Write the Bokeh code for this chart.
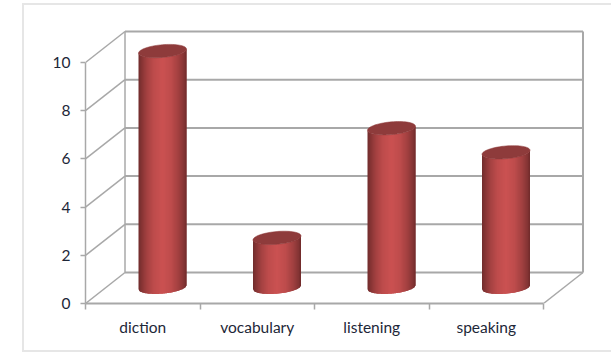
import numpy as np
from bokeh.embed import file_html
from bokeh.models import ColumnDataSource, FixedTicker, InlineStyleSheet, LinearAxis, Range1d
from bokeh.plotting import figure
from bokeh.resources import INLINE

# Chart values
categories = ["diction", "vocabulary", "listening", "speaking"]
scores = [9.8, 2.05, 6.6, 5.6]
value_ticks = [0, 2, 4, 6, 8, 10]

# Oblique projection of the box, in data units
DEPTH_X = 39.5 / 114.5
DEPTH_Y = 31 / 24.1
X_MAX = 4.0
Y_MAX = 10.0

# Cylinder shape, in data units
RADIUS_X = 0.2096
RADIUS_Y = 0.265
SHEAR = 0.083
FLOOR_Y = DEPTH_Y / 2 + 0.03

WALL = "#a8a8a8"
CAP = "#8e3b3b"
TEXT = "#1d2738"
SHADE_POS = [0.0, 0.06, 0.18, 0.32, 0.5, 0.68, 0.84, 0.95, 1.0]
SHADE_RGB = [
    (112, 44, 44), (132, 52, 52), (165, 66, 66), (190, 76, 76), (203, 82, 82),
    (190, 76, 76), (160, 64, 64), (132, 52, 52), (112, 44, 44),
]

# Light rule around the chart area, open on the right edge of the page
chart_rule = InlineStyleSheet(css="""
:host::after {
  content: "";
  position: absolute;
  left: 22px; top: 3px; right: 0; bottom: 0;
  border-style: solid;
  border-color: #e6e6e6;
  border-width: 2px 0 2px 2px;
  pointer-events: none;
}
""")

p = figure(
    width=611, height=352, output_backend="svg", toolbar_location=None,
    x_range=Range1d(0, 500 / 114.5), y_range=Range1d(0, 275 / 24.1),
    x_axis_type=None, y_axis_type=None,
    min_border_left=85, min_border_right=26, min_border_top=28, min_border_bottom=49,
    outline_line_color=None, background_fill_color="white", border_fill_color="white",
    stylesheets=[chart_rule],
)
p.grid.visible = False

# Box frame: back wall, side wall diagonals and floor
back_x0 = DEPTH_X
back_x1 = X_MAX + DEPTH_X
for v in value_ticks:
    p.segment(0, v, DEPTH_X, v + DEPTH_Y, line_color=WALL, line_width=1.5)
    p.segment(back_x0, v + DEPTH_Y, back_x1, v + DEPTH_Y, line_color=WALL, line_width=2)
p.segment(back_x0, DEPTH_Y, back_x0, Y_MAX + DEPTH_Y, line_color=WALL, line_width=1.5)
p.segment(back_x1, DEPTH_Y, back_x1, Y_MAX + DEPTH_Y, line_color=WALL, line_width=2)
p.segment(X_MAX, 0, back_x1, DEPTH_Y, line_color=WALL, line_width=1.5)

# Cylinders: overlapping vertical strips shaded across the width, then the top cap
edges = np.linspace(-1, 1, 49)
arc = np.sqrt(np.clip(1 - edges**2, 0, 1)) * RADIUS_Y
tilt = edges * SHEAR
strip_mid = (edges[:-1] + edges[1:] + 2) / 4
strip_colors = [
    "#%02x%02x%02x" % tuple(int(np.interp(m, SHADE_POS, [c[j] for c in SHADE_RGB])) for j in range(3))
    for m in strip_mid
]
for i, score in enumerate(scores):
    cx = i + 0.5 + DEPTH_X / 2
    top_y = FLOOR_Y + score
    strip_xs, strip_ys = [], []
    for k in range(len(strip_colors)):
        # Each strip runs one step under its right neighbour so no seam shows
        end = min(k + 3, len(edges))
        xs = cx + edges[k:end] * RADIUS_X
        low = FLOOR_Y - arc[k:end] + tilt[k:end]
        high = top_y - arc[k:end] + tilt[k:end]
        strip_xs.append(np.concatenate([xs, xs[::-1]]))
        strip_ys.append(np.concatenate([low, high[::-1]]))
    p.patches("xs", "ys", fill_color="color", line_color=None,
              source=ColumnDataSource(dict(xs=strip_xs, ys=strip_ys, color=strip_colors)))
    t = np.linspace(0, 2 * np.pi, 73)
    p.patch(cx + RADIUS_X * np.cos(t),
            top_y + RADIUS_Y * np.sin(t) + SHEAR * np.cos(t),
            fill_color=CAP, line_color=CAP, line_width=0.5)

# Value axis on the front left edge
left = LinearAxis(bounds=(0, Y_MAX), ticker=FixedTicker(ticks=value_ticks))
left.axis_line_color = WALL
left.axis_line_width = 1.5
left.major_tick_line_color = WALL
left.major_tick_line_width = 1.5
left.major_tick_in = 0
left.major_tick_out = 5
left.minor_tick_line_color = None
left.major_label_standoff = 10
left.major_label_text_font = "Lato"
left.major_label_text_font_size = "15.5px"
left.major_label_text_color = TEXT
p.add_layout(left, "left")

# Category axis: ticks at the band edges, names at the band centres
centres = [i + 0.5 for i in range(len(categories))]
bottom = LinearAxis(
    bounds=(0, X_MAX),
    ticker=FixedTicker(ticks=centres, minor_ticks=list(range(len(categories) + 1))),
    major_label_overrides=dict(zip(centres, categories)),
)
bottom.axis_line_color = WALL
bottom.axis_line_width = 2
bottom.major_tick_line_color = None
bottom.minor_tick_line_color = WALL
bottom.minor_tick_line_width = 1.5
bottom.minor_tick_in = 0
bottom.minor_tick_out = 6
bottom.major_label_standoff = 8
bottom.major_label_text_font = "Lato"
bottom.major_label_text_font_size = "15.5px"
bottom.major_label_text_color = TEXT
p.add_layout(bottom, "below")

open("out.html", "w").write(file_html(p, INLINE))
